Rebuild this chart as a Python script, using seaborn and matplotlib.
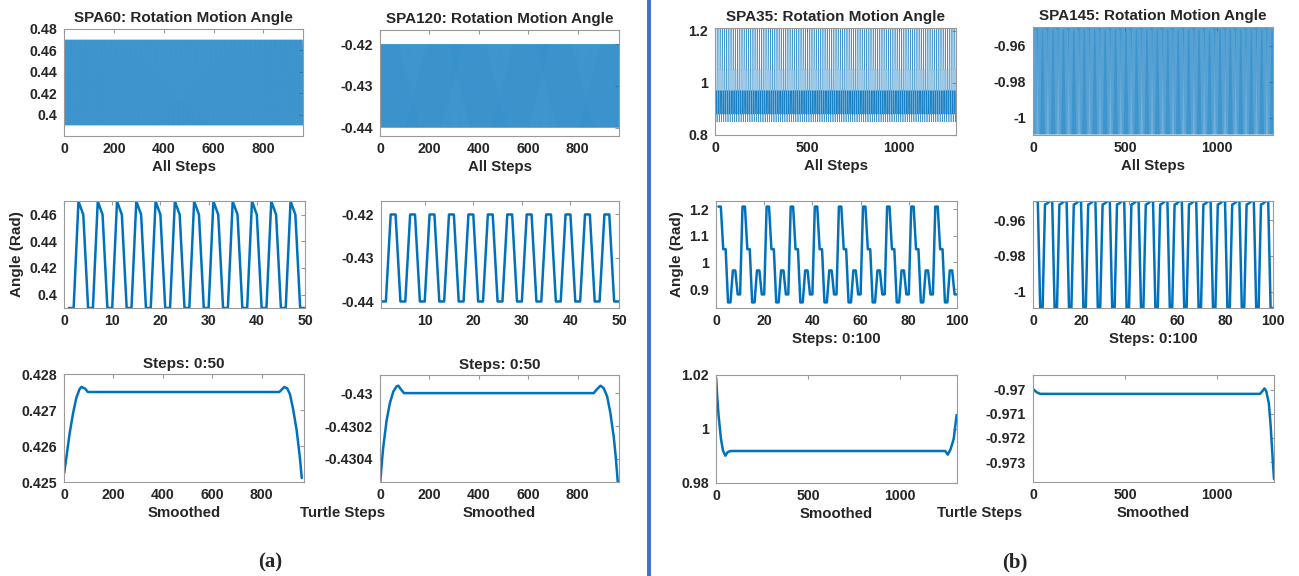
import numpy as np
import matplotlib
matplotlib.use("Agg")
import matplotlib.pyplot as plt
import matplotlib.patches as mpatches
from matplotlib.ticker import FuncFormatter
import seaborn as sns

# ---------------- data ----------------
# repeating cycles of the raw rotation angle, starting at step 1
spa60_cycle = [0.39, 0.39, 0.47, 0.46]
spa60_steps = 959
spa120_cycle = [-0.44, -0.44, -0.42, -0.42]
spa120_steps = 967
spa35_cycle = [1.21, 1.21, 1.05, 1.05, 0.85, 0.85, 0.97, 0.97, 0.88, 0.88]
spa35_steps = 1308
spa145_cycle = [-0.9492, -0.9492, -1.0092, -1.0092, -0.9512, -0.9505]
spa145_steps = 1302

# smoothed curves
smooth60_x = [1, 10, 23, 37, 50, 63, 70, 84, 97, 872, 881, 892, 904, 915, 928, 942, 955, 963]
smooth60_y = [0.42525, 0.42570, 0.42636, 0.42692, 0.42734, 0.42758, 0.42764, 0.42760, 0.42750,
              0.42750, 0.42756, 0.42764, 0.42760, 0.42744, 0.42702, 0.42645, 0.42570, 0.42511]
smooth120_x = [1, 7, 13, 27, 40, 54, 67, 74, 84, 97, 865, 878, 892, 905, 919, 932, 946, 954, 962]
smooth120_y = [-0.43054, -0.43043, -0.43033, -0.430163, -0.430061, -0.42999, -0.429959, -0.429955,
               -0.429976, -0.43, -0.43, -0.429976, -0.429955, -0.42997, -0.43002, -0.43012,
               -0.43027, -0.43039, -0.43054]
smooth35_x = [1, 7, 14, 27, 38, 51, 63, 78, 1246, 1260, 1275, 1292, 1308]
smooth35_y = [1.0188, 1.0115, 1.005, 0.9963, 0.992, 0.9901, 0.9914, 0.99185, 0.99185, 0.9905,
              0.9925, 0.9963, 1.0052]
smooth145_x = [1, 22, 40, 1235, 1250, 1259, 1268, 1283, 1293, 1304, 1311]
smooth145_y = [-0.96997, -0.97011, -0.970165, -0.970165, -0.97003, -0.96994, -0.97003, -0.97055,
               -0.97151, -0.97289, -0.97371]

BLUE = "#0072BD"
FRAME = "#9a9a9a"
W, H = 1299, 576

sns.set_style("white")
plt.rcParams["font.family"] = ["Liberation Sans", "DejaVu Sans"]
plt.rcParams["font.weight"] = "bold"
plt.rcParams["axes.titleweight"] = "bold"
plt.rcParams["axes.labelweight"] = "bold"

fig = plt.figure(figsize=(W / 100, H / 100), dpi=100)


def pos(l, t, r, b):
    return [l / W, 1 - b / H, (r - l) / W, (b - t) / H]


fmt = FuncFormatter(lambda v, p: format(round(v, 6), "g").replace("\u2212", "-"))


def make_ax(box, xs, ys, xlim, ylim, xticks, yticks, lw=1.6, title=None, xlabel=None,
            ylabel=None, tpad=5, alpha=1.0):
    ax = fig.add_axes(pos(*box))
    sns.lineplot(x=np.asarray(xs, float), y=np.asarray(ys, float), ax=ax, color=BLUE,
                 linewidth=lw, alpha=alpha, estimator=None, sort=False, legend=False)
    ax.set_xlim(*xlim)
    ax.set_ylim(*ylim)
    ax.set_xticks(xticks)
    ax.set_yticks(yticks)
    ax.xaxis.set_major_formatter(fmt)
    ax.yaxis.set_major_formatter(fmt)
    ax.tick_params(direction="in", top=True, right=True, length=3, color=FRAME,
                   labelsize=10.2)
    ax.tick_params(axis="x", pad=4)
    ax.tick_params(axis="y", pad=5)
    for s in ax.spines.values():
        s.set_color(FRAME)
        s.set_linewidth(0.8)
    if title:
        ax.set_title(title, fontsize=11, pad=tpad)
    ax.set_xlabel(xlabel if xlabel else "", fontsize=10.8, labelpad=3)
    ax.set_ylabel(ylabel if ylabel else "", fontsize=11, labelpad=4)
    return ax


def raw(cycle, n):
    steps = np.arange(1, n + 1)
    return steps, np.resize(np.array(cycle, float), n)


# ---------------- (a) ----------------
x, y = raw(spa60_cycle, spa60_steps)
make_ax((64, 29, 303, 136), x, y, (0, 959), (0.38, 0.48), [0, 200, 400, 600, 800],
        [0.4, 0.42, 0.44, 0.46, 0.48], lw=0.3, alpha=0.9, title="SPA60: Rotation Motion Angle",
        xlabel="All Steps")
x, y = raw(spa120_cycle, spa120_steps)
make_ax((380, 30, 619, 136), x, y, (0, 967), (-0.442, -0.4166), [0, 200, 400, 600, 800],
        [-0.44, -0.43, -0.42], lw=0.3, alpha=0.9, title="SPA120: Rotation Motion Angle",
        xlabel="All Steps")
x, y = raw(spa60_cycle, 50)
make_ax((64, 201, 305, 308), x, y, (0, 50), (0.39, 0.4702), [0, 10, 20, 30, 40, 50],
        [0.4, 0.42, 0.44, 0.46], lw=1.8, ylabel="Angle (Rad)")
x, y = raw(spa120_cycle, 50)
make_ax((381, 201, 619, 308), x, y, (1, 50), (-0.4415, -0.4169), [10, 20, 30, 40, 50],
        [-0.44, -0.43, -0.42], lw=1.8)
make_ax((64, 374, 304, 482), smooth60_x, smooth60_y, (0, 972), (0.425, 0.428),
        [0, 200, 400, 600, 800], [0.425, 0.426, 0.427, 0.428], lw=1.8,
        title="Steps: 0:50", xlabel="Smoothed", tpad=4)
make_ax((380, 375, 619, 482), smooth120_x, smooth120_y, (0, 967), (-0.43054, -0.42989),
        [0, 200, 400, 600, 800], [-0.4304, -0.4302, -0.43], lw=1.8,
        title="Steps: 0:50", xlabel="Smoothed", tpad=4)

# ---------------- (b) ----------------
x, y = raw(spa35_cycle, spa35_steps)
make_ax((715, 28, 956, 135), x, y, (0, 1308), (0.8, 1.21), [0, 500, 1000],
        [0.8, 1.0, 1.2], lw=0.3, alpha=0.9, title="SPA35: Rotation Motion Angle",
        xlabel="All Steps")
x, y = raw(spa145_cycle, spa145_steps)
make_ax((1033, 27, 1273, 135), x, y, (0, 1302), (-1.0095, -0.9497), [0, 500, 1000],
        [-1.0, -0.98, -0.96], lw=0.3, alpha=0.9, title="SPA145: Rotation Motion Angle",
        xlabel="All Steps")
x, y = raw(spa35_cycle, 100)
make_ax((716, 201, 957, 308), x, y, (0, 100), (0.829, 1.231), [0, 20, 40, 60, 80, 100],
        [0.9, 1.0, 1.1, 1.2], lw=1.8, xlabel="Steps: 0:100", ylabel="Angle (Rad)")
x, y = raw(spa145_cycle, 100)
make_ax((1033, 201, 1273, 308), x, y, (0, 100), (-1.0092, -0.9492), [0, 20, 40, 60, 80, 100],
        [-1.0, -0.98, -0.96], lw=1.8, xlabel="Steps: 0:100")
make_ax((716, 375, 957, 483), smooth35_x, smooth35_y, (0, 1310), (0.98, 1.02),
        [0, 500, 1000], [0.98, 1.0, 1.02], lw=1.8, xlabel="Smoothed")
make_ax((1033, 375, 1274, 482), smooth145_x, smooth145_y, (0, 1311), (-0.97383, -0.96938),
        [0, 500, 1000], [-0.973, -0.972, -0.971, -0.97], lw=1.8, xlabel="Smoothed")

# ---------------- figure-level text ----------------
fig.text(343 / W, 1 - 513 / H, "Turtle Steps", ha="center", va="center", fontsize=10.8,
         fontweight="bold")
fig.text(980 / W, 1 - 513 / H, "Turtle Steps", ha="center", va="center", fontsize=10.8,
         fontweight="bold")
fig.text(270 / W, 1 - 562 / H, "(a)", ha="center", va="center", fontsize=15,
         fontweight="bold", family=["Liberation Serif", "DejaVu Serif"])
fig.text(1015 / W, 1 - 562 / H, "(b)", ha="center", va="center", fontsize=15,
         fontweight="bold", family=["Liberation Serif", "DejaVu Serif"])
fig.add_artist(mpatches.Rectangle((647 / W, 0), 4 / W, 1, transform=fig.transFigure,
                                  color="#4472C4", lw=0))

fig.savefig("out.png", dpi=100, facecolor="white")
